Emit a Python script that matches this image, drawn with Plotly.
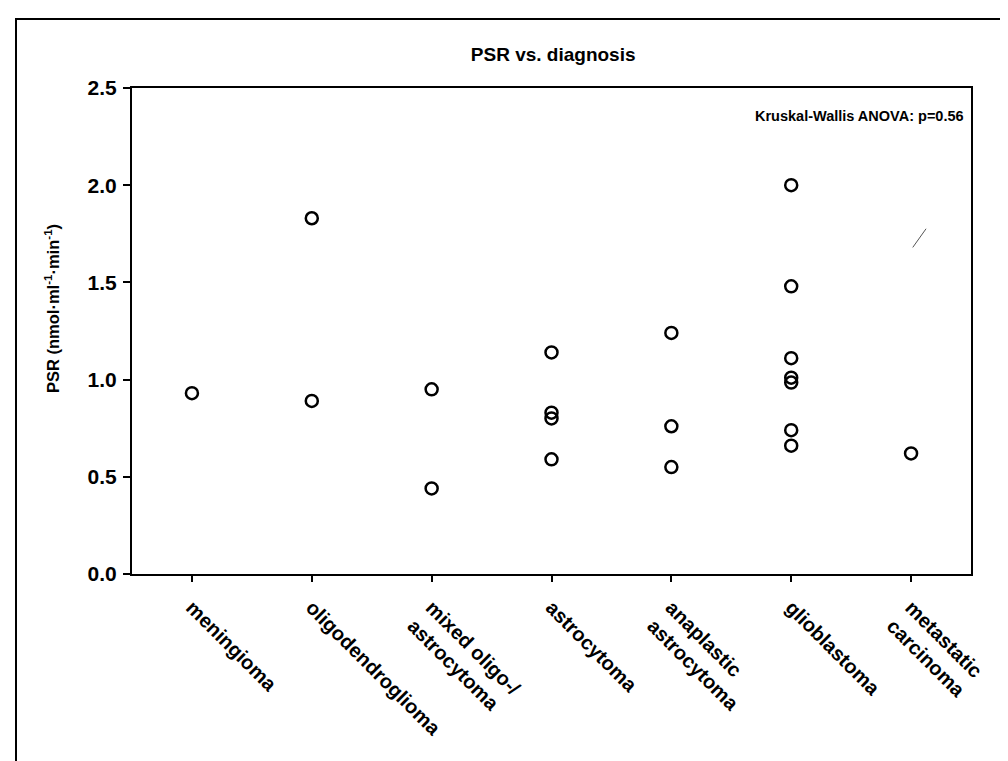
import plotly.graph_objects as go

categories = ["meningioma", "oligodendroglioma", "mixed oligo-/<br>astrocytoma",
              "astrocytoma", "anaplastic<br>astrocytoma", "glioblastoma",
              "metastatic<br>carcinoma"]

meningioma = [0.93]
oligodendroglioma = [1.83, 0.89]
mixed = [0.95, 0.44]
astrocytoma = [1.14, 0.83, 0.80, 0.59]
anaplastic = [1.24, 0.76, 0.55]
glioblastoma = [2.00, 1.48, 1.11, 1.01, 0.985, 0.74, 0.66]
metastatic = [0.62]

groups = [meningioma, oligodendroglioma, mixed, astrocytoma, anaplastic,
          glioblastoma, metastatic]

xs, ys = [], []
for cat, vals in zip(categories, groups):
    for v in vals:
        xs.append(cat)
        ys.append(v)

FONT = "Liberation Sans, Arial, sans-serif"

fig = go.Figure()
fig.add_trace(go.Scatter(
    x=xs, y=ys, mode="markers",
    marker=dict(symbol="circle-open", size=12, color="black",
                line=dict(width=2.5, color="black")),
    showlegend=False, hoverinfo="y"))

fig.update_layout(
    width=1008, height=761,
    margin=dict(l=124, r=45, t=80, b=195),
    paper_bgcolor="white", plot_bgcolor="white",
    font=dict(family=FONT, color="black"),
    title=dict(text="PSR vs. diagnosis", x=0.502, xref="paper", xanchor="center",
               y=1 - 46 / 761, yanchor="middle",
               font=dict(family=FONT, size=19, color="black", weight="bold")),
    xaxis=dict(type="category", categoryorder="array", categoryarray=categories,
               range=[-0.5, 6.5], showline=True, linewidth=2, linecolor="black",
               mirror=True, ticks="outside", ticklen=6, tickwidth=2,
               tickcolor="black", tickangle=45, showgrid=False, zeroline=False,
               ticklabelstandoff=6,
               tickfont=dict(family=FONT, size=20, color="black", weight="bold")),
    yaxis=dict(range=[0, 2.5], tickvals=[0, 0.5, 1.0, 1.5, 2.0, 2.5],
               tickformat=".1f", showline=True, linewidth=2, linecolor="black",
               mirror=True, ticks="outside", ticklen=7, tickwidth=2,
               tickcolor="black", showgrid=False, zeroline=False,
               ticklabelstandoff=2,
               tickfont=dict(family=FONT, size=21, color="black", weight="bold")),
)

fig.add_annotation(
    text="PSR (nmol·ml<sup>-1</sup>·min<sup>-1</sup>)", textangle=-90,
    xref="paper", yref="paper", x=(44 - 124) / 839, y=(566 - 301) / 486,
    xanchor="center", yanchor="middle", showarrow=False,
    font=dict(family=FONT, size=16.5, color="black", weight="bold"))

fig.add_annotation(
    text="Kruskal-Wallis ANOVA: p=0.56",
    xref="paper", yref="paper", x=(958 - 124) / 839, y=(566 - 108) / 486,
    xanchor="right", yanchor="middle", showarrow=False,
    font=dict(family=FONT, size=14.5, color="black", weight="bold"))

# outer frame of the figure panel
fig.add_shape(type="rect", xref="paper", yref="paper",
              x0=(8 - 124) / 839, x1=1.3, y0=-0.6, y1=(566 - 11) / 486,
              line=dict(color="black", width=2), fillcolor="rgba(0,0,0,0)",
              layer="above")

# small scan stroke in the original
fig.add_shape(type="line", xref="x", yref="y",
              x0=6.014, y0=1.68, x1=6.125, y1=1.776,
              line=dict(color="#555555", width=1))

fig.write_html("out.html")
